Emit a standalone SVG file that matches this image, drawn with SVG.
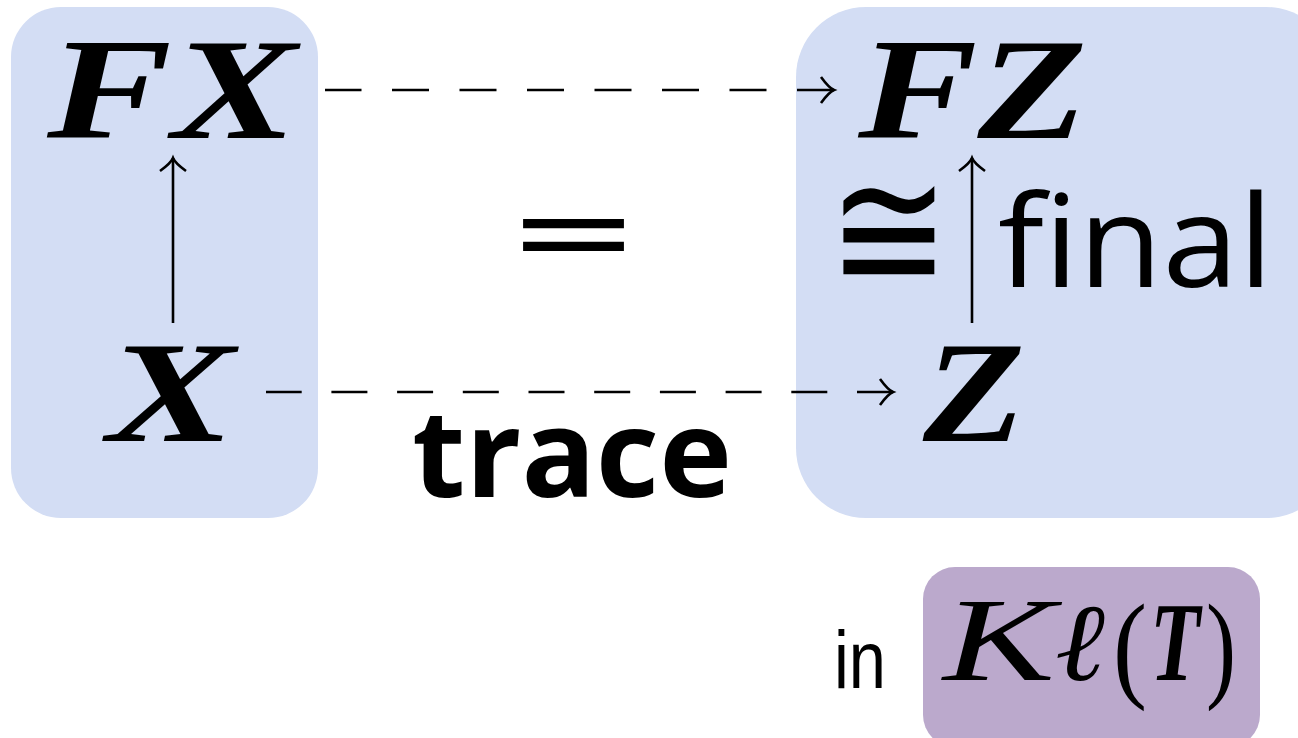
<svg xmlns="http://www.w3.org/2000/svg" width="1298" height="738" viewBox="0 0 1298 738">
<style>
.box{fill:#d3ddf4}
.kl{fill:#bba9cc}
.m{font-family:"Liberation Serif",serif;font-weight:bold;font-style:italic;font-size:145px;fill:#000}
.sans{font-family:"Open Sans","DejaVu Sans",sans-serif;fill:#000}
.ln{stroke:#000;stroke-width:2.6;fill:none}
</style>
<defs>
<marker id="ah" viewBox="-16 -16 20 32" refX="0" refY="0" markerWidth="20" markerHeight="32" markerUnits="userSpaceOnUse" orient="auto-start-reverse" overflow="visible">
<path d="M-13,-13 Q-5,-2 0,0 Q-5,2 -13,13" fill="none" stroke="#000" stroke-width="2.6"/>
</marker>
</defs>
<rect width="1298" height="738" fill="#fff"/>
<g id="left">
<rect class="box" x="11" y="7" width="307" height="511" rx="50"/>
<text class="m" x="47" y="138" textLength="250" lengthAdjust="spacingAndGlyphs">FX</text>
<text class="m" x="107" y="441" textLength="128" lengthAdjust="spacingAndGlyphs">X</text>
</g>
<g id="right">
<rect class="box" x="796" y="7" width="540" height="511" rx="70"/>
<text class="m" x="858" y="138" textLength="229" lengthAdjust="spacingAndGlyphs">FZ</text>
<text class="m" x="923" y="441" textLength="102" lengthAdjust="spacingAndGlyphs">Z</text>
<text x="828" y="290" font-family="DejaVu Sans ExtraLight,DejaVu Sans Light,Inter,DejaVu Sans,sans-serif" font-weight="200" font-size="175" textLength="122" lengthAdjust="spacingAndGlyphs">≅</text>
<text class="sans" x="998" y="287" font-size="128" textLength="275" lengthAdjust="spacingAndGlyphs">final</text>
</g>
<g id="mid">
<text x="506" y="270" font-family="DejaVu Sans,sans-serif" font-size="112" textLength="135" lengthAdjust="spacingAndGlyphs">=</text>
<text class="sans" x="412" y="497" font-size="122" font-weight="bold" textLength="320" lengthAdjust="spacingAndGlyphs">trace</text>
</g>
<g id="category">
<rect class="kl" x="923" y="567" width="337" height="180" rx="32"/>
<text x="834" y="688" font-family="Liberation Sans,sans-serif" font-size="82" textLength="52" lengthAdjust="spacingAndGlyphs">in</text>
<text x="943" y="680" font-family="Liberation Serif,serif" font-style="italic" font-size="118" textLength="112" lengthAdjust="spacingAndGlyphs">K</text>
<text x="1055" y="680" font-family="Liberation Serif,serif" font-style="italic" font-size="110" textLength="50" lengthAdjust="spacingAndGlyphs">ℓ</text>
<text x="1113" y="686" font-family="Liberation Serif,serif" font-size="118" textLength="34" lengthAdjust="spacingAndGlyphs">(</text>
<text x="1150" y="680" font-family="Liberation Serif,serif" font-style="italic" font-weight="bold" font-size="112" textLength="50" lengthAdjust="spacingAndGlyphs">T</text>
<text x="1206" y="686" font-family="Liberation Serif,serif" font-size="118" textLength="30" lengthAdjust="spacingAndGlyphs">)</text>
</g>
<g id="connectors">
<path class="ln" stroke-dasharray="37 30.5" d="M834,90 H325" marker-start="url(#ah)"/>
<path class="ln" stroke-dasharray="36 29.7" d="M893,392 H266" marker-start="url(#ah)"/>
<path class="ln" d="M173,323 V158" marker-end="url(#ah)"/>
<path class="ln" d="M972,323 V158" marker-end="url(#ah)"/>
</g>
</svg>
